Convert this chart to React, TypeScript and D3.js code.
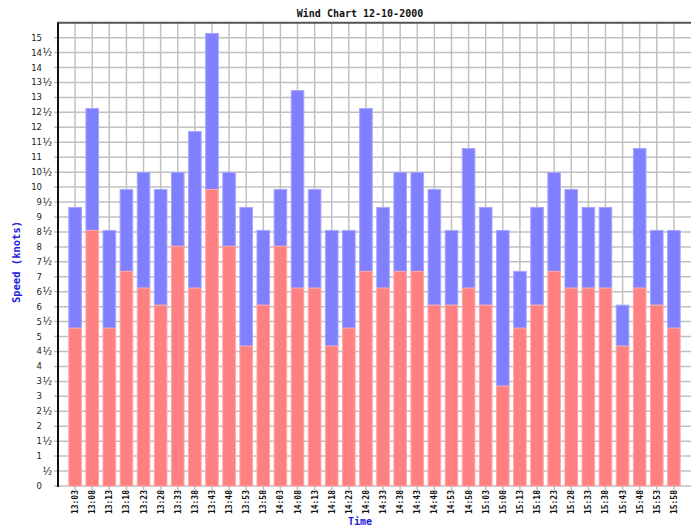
import React from "react";
import * as d3 from "d3";

const times = [
  "13:03", "13:08", "13:13", "13:18", "13:23", "13:28", "13:33", "13:38", "13:43",
  "13:48", "13:53", "13:58", "14:03", "14:08", "14:13", "14:18", "14:23", "14:28",
  "14:33", "14:38", "14:43", "14:48", "14:53", "14:58", "15:03", "15:08", "15:13",
  "15:18", "15:23", "15:28", "15:33", "15:38", "15:43", "15:48", "15:53", "15:58",
];

// top of blue (gust) segment
const gust = [
  9.32, 12.63, 8.55, 9.92, 10.49, 9.92, 10.49, 11.86, 15.14,
  10.49, 9.32, 8.55, 9.92, 13.23, 9.92, 8.55, 8.55, 12.63,
  9.32, 10.49, 10.49, 9.92, 8.55, 11.29, 9.32, 8.55, 7.18,
  9.32, 10.49, 9.92, 9.32, 9.32, 6.05, 11.29, 8.55, 8.55,
];

// top of red (lull) segment
const lull = [
  5.28, 8.55, 5.28, 7.18, 6.62, 6.05, 8.02, 6.62, 9.92,
  8.02, 4.68, 6.05, 8.02, 6.62, 6.62, 4.68, 5.28, 7.18,
  6.62, 7.18, 7.18, 6.05, 6.05, 6.62, 6.05, 3.34, 5.28,
  6.05, 7.18, 6.62, 6.62, 6.62, 4.68, 6.62, 6.05, 5.28,
];

const yTicks = d3.range(0, 15.01, 0.5);

const title = "Wind Chart 12-10-2000";
const yTitle = "Speed (knots)";
const xTitle = "Time";

export default function App() {
  const W = 696;
  const H = 526;
  const left = 58;
  const right = 691;
  const top = 22.7;
  const bottom = 486;

  const x = d3.scalePoint<string>().domain(times).range([left, right]).padding(1);
  const y = d3.scaleLinear().domain([0, 15.5]).range([bottom, top]);
  const bw = 12.6;

  const font = "'DejaVu Sans', sans-serif";
  const mono = "'DejaVu Sans Mono', monospace";

  return (
    <svg
      width={W}
      height={H}
      style={{ position: "absolute", left: 0, top: 0, background: "#fff" }}
    >
      <rect x={0} y={0} width={W} height={H} fill="#fff" />
      {/* horizontal grid */}
      {yTicks.map((t) => (
        <line
          key={"h" + t}
          x1={left - 4}
          x2={right}
          y1={y(t)}
          y2={y(t)}
          stroke="#c0c0c0"
          strokeWidth={1.5}
        />
      ))}
      {/* vertical grid */}
      {times.map((t) => (
        <line
          key={"v" + t}
          x1={x(t)}
          x2={x(t)}
          y1={top}
          y2={bottom + 4}
          stroke="#c0c0c0"
          strokeWidth={1.5}
        />
      ))}
      {/* bars */}
      {times.map((t, i) => (
        <g key={"b" + t}>
          <rect
            x={(x(t) as number) - bw / 2}
            y={y(gust[i])}
            width={bw}
            height={y(lull[i]) - y(gust[i])}
            fill="#8080ff"
            stroke="#a6a6ff"
            strokeWidth={1}
          />
          <rect
            x={(x(t) as number) - bw / 2}
            y={y(lull[i])}
            width={bw}
            height={bottom - y(lull[i])}
            fill="#ff8080"
            stroke="#ffa6a6"
            strokeWidth={1}
          />
        </g>
      ))}
      {/* frame */}
      <line x1={left - 1} x2={right} y1={top} y2={top} stroke="#555" strokeWidth={2} />
      <line x1={left} x2={left} y1={top} y2={bottom + 1} stroke="#111" strokeWidth={2} />
      {/* y tick labels */}
      {yTicks.map((t) => {
        const whole = Math.floor(t);
        const half = t - whole > 0.25;
        return (
          <g key={"yl" + t} fontFamily={font} fontSize={8.5} fill="#222">
            {(whole > 0 || !half) && (
              <text x={42} y={y(t) + 3} textAnchor="end">
                {whole}
              </text>
            )}
            {half && (
              <text x={42.5} y={y(t) + 3.5} textAnchor="start" fontSize={10}>
                ½
              </text>
            )}
          </g>
        );
      })}
      {/* x tick labels */}
      {times.map((t) => (
        <text
          key={"xl" + t}
          transform={`translate(${(x(t) as number) + 3},${bottom + 4}) rotate(-90)`}
          textAnchor="end"
          fontFamily={mono}
          fontWeight="bold"
          fontSize={8}
          fill="#111"
        >
          {t}
        </text>
      ))}
      {/* titles */}
      <text
        x={360}
        y={17}
        textAnchor="middle"
        fontFamily={mono}
        fontWeight="bold"
        fontSize={10}
        fill="#111"
      >
        {title}
      </text>
      <text
        transform={`translate(20,262) rotate(-90)`}
        textAnchor="middle"
        fontFamily={mono}
        fontWeight="bold"
        fontSize={10.5}
        fill="#2222dd"
      >
        {yTitle}
      </text>
      <text
        x={360}
        y={525}
        textAnchor="middle"
        fontFamily={mono}
        fontWeight="bold"
        fontSize={10}
        fill="#2222dd"
      >
        {xTitle}
      </text>
    </svg>
  );
}
